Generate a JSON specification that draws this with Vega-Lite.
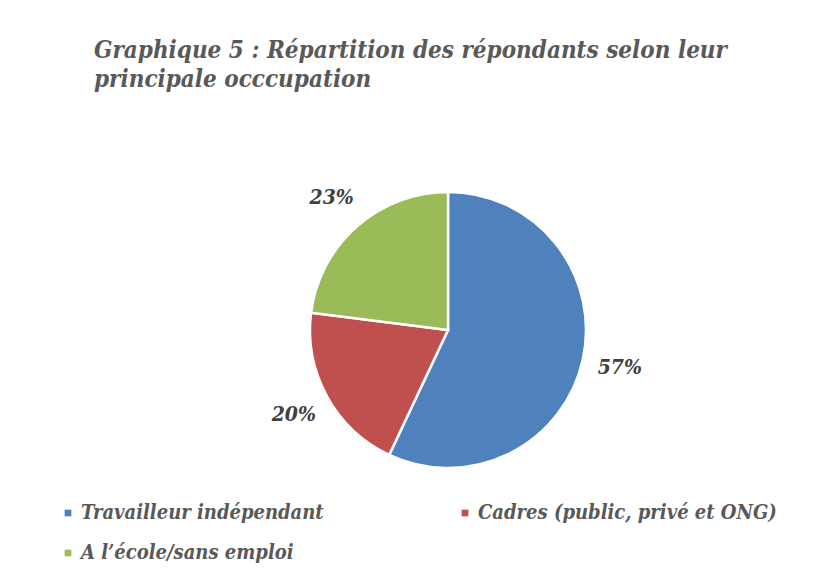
{
  "$schema": "https://vega.github.io/schema/vega-lite/v6.json",
  "autosize": {"type": "none"},
  "width": 600,
  "height": 400,
  "padding": {"left": 148, "top": 130, "right": 66, "bottom": 53},
  "background": "white",
  "title": {
    "text": ["Graphique 5 : Répartition des répondants selon leur", "principale occcupation"],
    "anchor": "start",
    "frame": "group",
    "dx": -54,
    "offset": 38,
    "font": "DejaVu Serif Condensed",
    "fontSize": 24,
    "fontStyle": "italic",
    "fontWeight": "bold",
    "color": "#595959",
    "lineHeight": 29
  },
  "data": {
    "values": [
      {"categorie": "Travailleur indépendant", "part": 57, "ordre": 1, "label": "57%"},
      {"categorie": "Cadres (public, privé et ONG)", "part": 20, "ordre": 2, "label": "20%"},
      {"categorie": "A l’école/sans emploi", "part": 23, "ordre": 3, "label": "23%"}
    ]
  },
  "encoding": {
    "theta": {"field": "part", "type": "quantitative", "stack": true},
    "order": {"field": "ordre", "type": "ordinal"},
    "color": {
      "field": "categorie",
      "type": "nominal",
      "sort": ["Travailleur indépendant", "Cadres (public, privé et ONG)", "A l’école/sans emploi"],
      "scale": {
        "domain": ["Travailleur indépendant", "Cadres (public, privé et ONG)", "A l’école/sans emploi"],
        "range": ["#4F81BD", "#C0504D", "#9BBB59"]
      },
      "legend": {
        "title": null,
        "orient": "none",
        "legendX": -90,
        "legendY": 373,
        "direction": "horizontal",
        "columns": 2,
        "columnPadding": 131,
        "rowPadding": 20,
        "symbolType": "square",
        "symbolSize": 45,
        "symbolStrokeWidth": 0,
        "labelFont": "DejaVu Serif Condensed",
        "labelFontSize": 20,
        "labelFontStyle": "italic",
        "labelFontWeight": "bold",
        "labelColor": "#595959",
        "labelLimit": 400,
        "labelOffset": 3
      }
    }
  },
  "layer": [
    {"mark": {"type": "arc", "outerRadius": 138, "stroke": "white", "strokeWidth": 2.5}},
    {
      "mark": {
        "type": "text",
        "radius": 176,
        "font": "DejaVu Serif Condensed",
        "fontSize": 21,
        "fontStyle": "italic",
        "fontWeight": "bold",
        "fill": "#404040"
      },
      "encoding": {
        "text": {"field": "label"},
        "color": {"value": "#404040"}
      }
    }
  ],
  "config": {"view": {"stroke": null}}
}
